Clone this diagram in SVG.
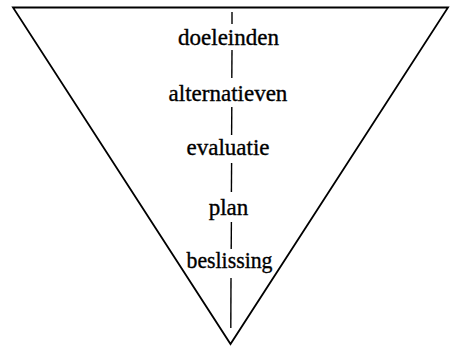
<svg xmlns="http://www.w3.org/2000/svg" width="452" height="346" viewBox="0 0 452 346">
<style>
.edge{fill:none;stroke:#000;stroke-width:1.8;stroke-linejoin:miter}
.axis{stroke:#000;stroke-width:1.4}
.lbl{font-family:"Liberation Serif","Times New Roman",serif;font-size:23px;fill:#000;stroke:#000;stroke-width:0.35;text-anchor:middle}
</style>
<rect width="452" height="346" fill="#fff"/>
<g id="funnel">
<polygon class="edge" points="13,7.5 448,7.5 230.5,344"/>
</g>
<g id="connectors">
<line class="axis" x1="232" y1="12" x2="232" y2="24"/>
<line class="axis" x1="232" y1="50" x2="231.8" y2="78"/>
<line class="axis" x1="231.8" y1="107" x2="231.6" y2="135"/>
<line class="axis" x1="231.6" y1="163" x2="231.4" y2="192"/>
<line class="axis" x1="231.4" y1="222" x2="231.2" y2="249"/>
<line class="axis" x1="231" y1="278" x2="230.8" y2="328"/>
</g>
<g id="doeleinden"><text class="lbl" x="228.5" y="45">doeleinden</text></g>
<g id="alternatieven"><text class="lbl" x="228" y="101">alternatieven</text></g>
<g id="evaluatie"><text class="lbl" x="228" y="155">evaluatie</text></g>
<g id="plan"><text class="lbl" x="228.5" y="215">plan</text></g>
<g id="beslissing"><text class="lbl" x="229.5" y="268" textLength="86" lengthAdjust="spacingAndGlyphs">beslissing</text></g>
</svg>
